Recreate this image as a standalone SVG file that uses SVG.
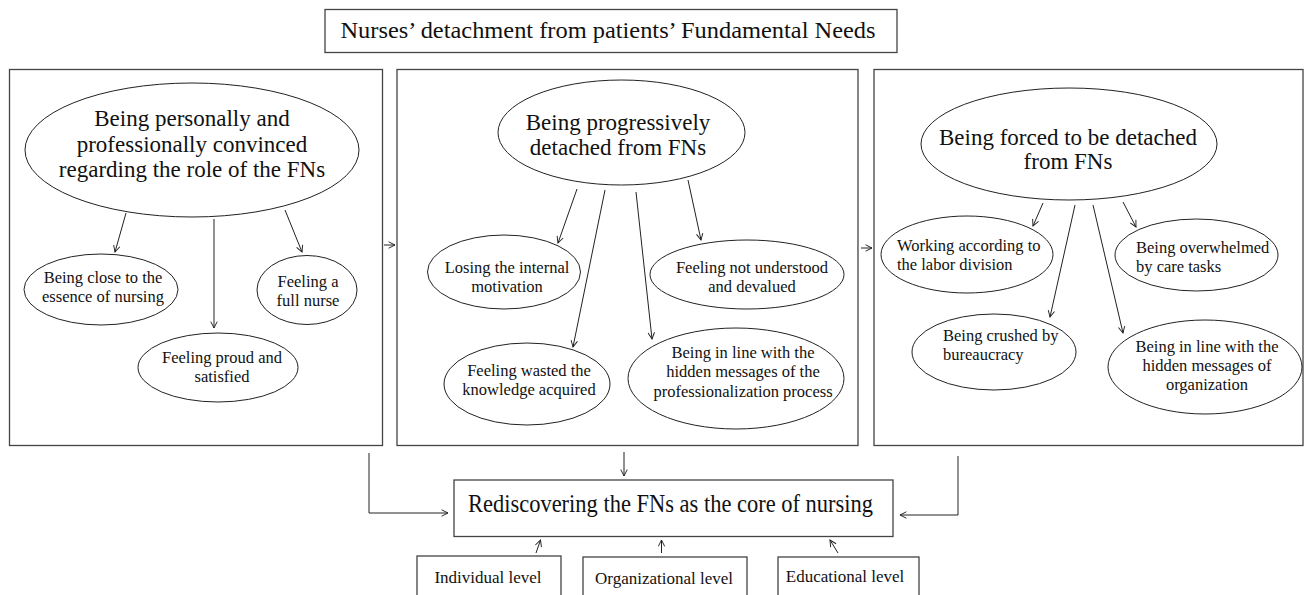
<svg xmlns="http://www.w3.org/2000/svg" width="1306" height="595" viewBox="0 0 1306 595">
<defs>
<style>
.box{fill:#fff;stroke:#444;stroke-width:1.3}
.el{fill:#fff;stroke:#222;stroke-width:1}
.t{font-family:"Liberation Serif","Times New Roman",serif;fill:#111}
.big{font-size:23px}
.sm{font-size:16.5px}
.lv{font-size:17px}
.c{text-anchor:middle}
.ln{fill:none;stroke:#222;stroke-width:1}
</style>
<marker id="ah" viewBox="0 0 10 10" refX="9" refY="5" markerWidth="8" markerHeight="8" markerUnits="userSpaceOnUse" orient="auto">
<path d="M1,1 L9,5 L1,9" fill="none" stroke="#222" stroke-width="1.2"/>
</marker>
</defs>
<rect width="1306" height="595" fill="#fff"/>

<g id="title">
<rect class="box" x="325" y="9.5" width="572" height="43"/>
<text class="t c" x="608" y="37.5" font-size="23.5" textLength="535" lengthAdjust="spacingAndGlyphs">Nurses’ detachment from patients’ Fundamental Needs</text>
</g>

<g id="panel1"><rect class="box" x="9.5" y="69.5" width="373" height="376"/></g>
<g id="panel2"><rect class="box" x="397" y="69.5" width="461" height="376"/></g>
<g id="panel3"><rect class="box" x="874" y="69.5" width="429" height="376"/></g>

<g id="n1">
<ellipse class="el" cx="192" cy="150" rx="167" ry="67"/>
<text class="t big c"><tspan x="192" y="126">Being personally and</tspan><tspan x="192" y="152">professionally convinced</tspan><tspan x="192" y="177">regarding the role of the FNs</tspan></text>
</g>
<g id="n1a">
<ellipse class="el" cx="101" cy="289.5" rx="77" ry="35.5"/>
<text class="t sm c"><tspan x="103" y="283">Being close to the</tspan><tspan x="103" y="302">essence of nursing</tspan></text>
</g>
<g id="n1b">
<ellipse class="el" cx="307" cy="290" rx="50" ry="34.5"/>
<text class="t sm c"><tspan x="308" y="287">Feeling a</tspan><tspan x="308" y="306">full nurse</tspan></text>
</g>
<g id="n1c">
<ellipse class="el" cx="218" cy="367.5" rx="80" ry="34.5"/>
<text class="t sm c"><tspan x="222" y="363">Feeling proud and</tspan><tspan x="222" y="382">satisfied</tspan></text>
</g>

<g id="n2">
<ellipse class="el" cx="621.5" cy="132.5" rx="123.5" ry="52.5"/>
<text class="t big c"><tspan x="618" y="130">Being progressively</tspan><tspan x="618" y="155">detached from FNs</tspan></text>
</g>
<g id="n2a">
<ellipse class="el" cx="504" cy="272" rx="76.5" ry="37"/>
<text class="t sm c"><tspan x="507" y="273">Losing the internal</tspan><tspan x="507" y="292">motivation</tspan></text>
</g>
<g id="n2b">
<ellipse class="el" cx="747" cy="274.5" rx="97" ry="34.5"/>
<text class="t sm c"><tspan x="752" y="273">Feeling not understood</tspan><tspan x="752" y="292">and devalued</tspan></text>
</g>
<g id="n2c">
<ellipse class="el" cx="527" cy="384" rx="83" ry="41"/>
<text class="t sm c"><tspan x="529" y="376">Feeling wasted the</tspan><tspan x="529" y="395">knowledge acquired</tspan></text>
</g>
<g id="n2d">
<ellipse class="el" cx="736" cy="378.5" rx="108" ry="50.5"/>
<text class="t sm c"><tspan x="743" y="358">Being in line with the</tspan><tspan x="743" y="377">hidden messages of the</tspan><tspan x="743" y="396.5">professionalization process</tspan></text>
</g>

<g id="n3">
<ellipse class="el" cx="1069" cy="144" rx="148" ry="56"/>
<text class="t big c"><tspan x="1068" y="145">Being forced to be detached</tspan><tspan x="1068" y="169">from FNs</tspan></text>
</g>
<g id="n3a">
<ellipse class="el" cx="967" cy="254.5" rx="86" ry="38.5"/>
<text class="t sm"><tspan x="897" y="251">Working according to</tspan><tspan x="897" y="270">the labor division</tspan></text>
</g>
<g id="n3b">
<ellipse class="el" cx="1196.5" cy="255" rx="81.5" ry="36"/>
<text class="t sm"><tspan x="1136" y="253">Being overwhelmed</tspan><tspan x="1136" y="272">by care tasks</tspan></text>
</g>
<g id="n3c">
<ellipse class="el" cx="994" cy="352" rx="82" ry="38"/>
<text class="t sm"><tspan x="943" y="341">Being crushed by</tspan><tspan x="943" y="359.5">bureaucracy</tspan></text>
</g>
<g id="n3d">
<ellipse class="el" cx="1205" cy="367" rx="97" ry="47"/>
<text class="t sm c"><tspan x="1207" y="352">Being in line with the</tspan><tspan x="1207" y="371">hidden messages of</tspan><tspan x="1207" y="390">organization</tspan></text>
</g>

<g id="core">
<rect class="box" x="454" y="480" width="439" height="56.5"/>
<text class="t c" x="670.5" y="511.5" font-size="24.5" textLength="405" lengthAdjust="spacingAndGlyphs">Rediscovering the FNs as the core of nursing</text>
</g>
<g id="lvl1">
<rect class="box" x="417" y="556" width="144" height="45"/>
<text class="t lv c" x="488" y="583">Individual level</text>
</g>
<g id="lvl2">
<rect class="box" x="583" y="557" width="164" height="45"/>
<text class="t lv c" x="664" y="583.5">Organizational level</text>
</g>
<g id="lvl3">
<rect class="box" x="778" y="557" width="141" height="45"/>
<text class="t lv c" x="845" y="582">Educational level</text>
</g>

<g id="connectors" class="ln">
<line x1="126" y1="213" x2="115" y2="252" marker-end="url(#ah)"/>
<line x1="214" y1="219" x2="214" y2="328" marker-end="url(#ah)"/>
<line x1="285" y1="210" x2="302" y2="252" marker-end="url(#ah)"/>
<line x1="384" y1="245" x2="395" y2="245" marker-end="url(#ah)"/>
<line x1="577" y1="189" x2="558" y2="243" marker-end="url(#ah)"/>
<line x1="605" y1="190" x2="573" y2="347" marker-end="url(#ah)"/>
<line x1="636" y1="192" x2="652" y2="339" marker-end="url(#ah)"/>
<line x1="688" y1="180" x2="701" y2="240" marker-end="url(#ah)"/>
<line x1="861" y1="248" x2="872" y2="248" marker-end="url(#ah)"/>
<line x1="1043" y1="203" x2="1033" y2="226" marker-end="url(#ah)"/>
<line x1="1075" y1="205" x2="1050" y2="317" marker-end="url(#ah)"/>
<line x1="1093" y1="205" x2="1123" y2="333" marker-end="url(#ah)"/>
<line x1="1123" y1="202" x2="1136" y2="227" marker-end="url(#ah)"/>
<line x1="624" y1="452" x2="624" y2="476" marker-end="url(#ah)"/>
<path d="M369,453 V513 H448" marker-end="url(#ah)"/>
<path d="M958,456 V515 H900" marker-end="url(#ah)"/>
<line x1="536" y1="553" x2="540.5" y2="540" marker-end="url(#ah)"/>
<line x1="661.5" y1="553" x2="661.5" y2="540" marker-end="url(#ah)"/>
<line x1="838" y1="553" x2="830" y2="540" marker-end="url(#ah)"/>
</g>
</svg>
